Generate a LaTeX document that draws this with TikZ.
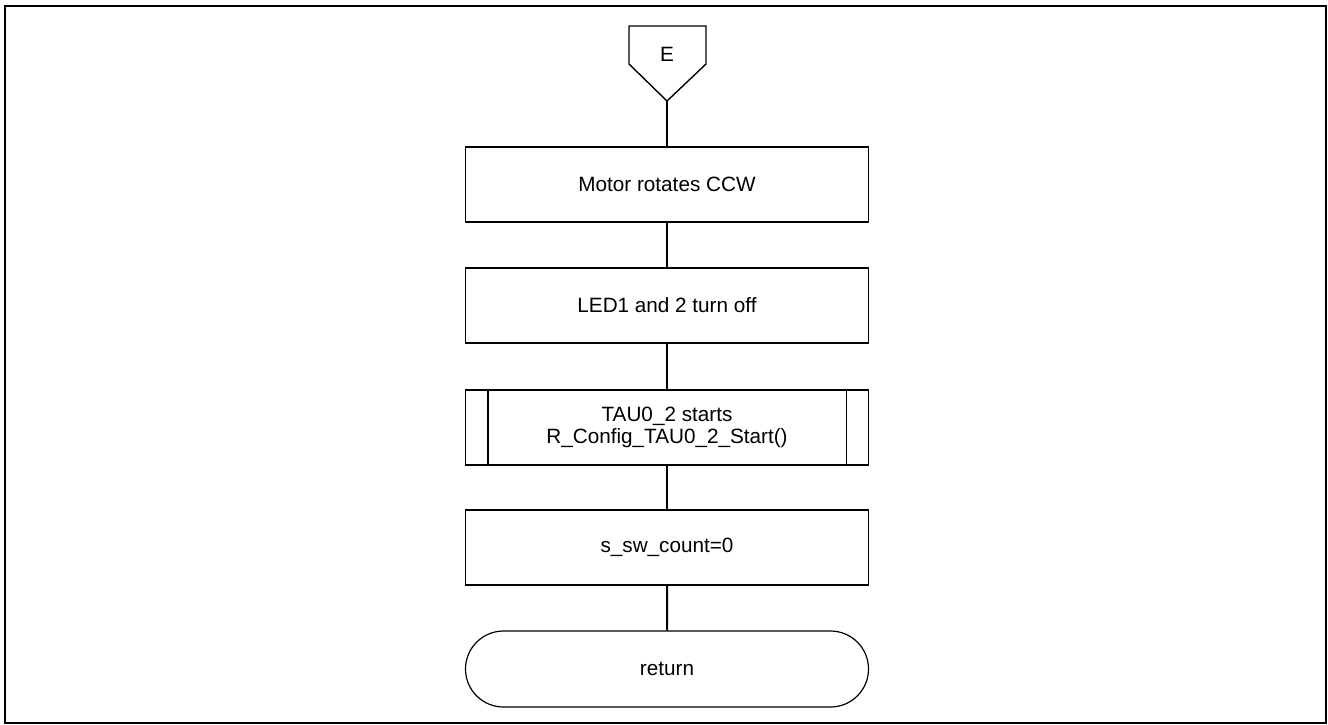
\documentclass[tikz,border=0pt]{standalone}
\usepackage{fontspec}
\setmainfont{Liberation Sans}
\usetikzlibrary{shapes.misc, positioning}
\tikzset{
  procbox/.style={draw, line width=0.6pt, minimum width=201.5pt, minimum height=37.5pt, inner sep=0pt, align=center},
  termbox/.style={draw, line width=0.6pt, rounded rectangle, minimum width=201.5pt, minimum height=38pt, inner sep=0pt},
  flow/.style={line width=1pt}
}

\begin{document}
\begin{tikzpicture}[x=0.5pt, y=-0.5pt, font=\fontsize{10.35}{11}\selectfont]
                \useasboundingbox (0,0) rectangle (1328,724);
                \draw[line width=1.1pt] (5,6) rectangle (1326,723);
                % off-page connector
                \draw[line width=0.7pt] (629,26) -- (706,26) -- (706,64) -- (667,101) -- (629,64) -- cycle;
                \node (E) at (667,54.5) {E};
                \coordinate (Etip) at (667,101);
                \node[procbox] (motor) at (667,184.5) {Motor rotates CCW};
                \node[procbox] (led)   at (667,305.5) {LED1 and 2 turn off};
                \node[procbox] (tau)   at (667,427.5) {TAU0\_2 starts\\R\_Config\_TAU0\_2\_Start()};
                \draw[line width=0.6pt] ([xshift=11.5pt]tau.north west) -- ([xshift=11.5pt]tau.south west);
                \draw[line width=0.6pt] ([xshift=-11.5pt]tau.north east) -- ([xshift=-11.5pt]tau.south east);
                \node[procbox] (count) at (667,547.5) {s\_sw\_count=0};
                \node[termbox] (ret)   at (667,669) {return};
                \draw[flow] (Etip)  -- (motor);
                \draw[flow] (motor) -- (led);
                \draw[flow] (led)   -- (tau);
                \draw[flow] (tau)   -- (count);
                \draw[flow] (count) -- (ret);
            \end{tikzpicture}
\end{document}
